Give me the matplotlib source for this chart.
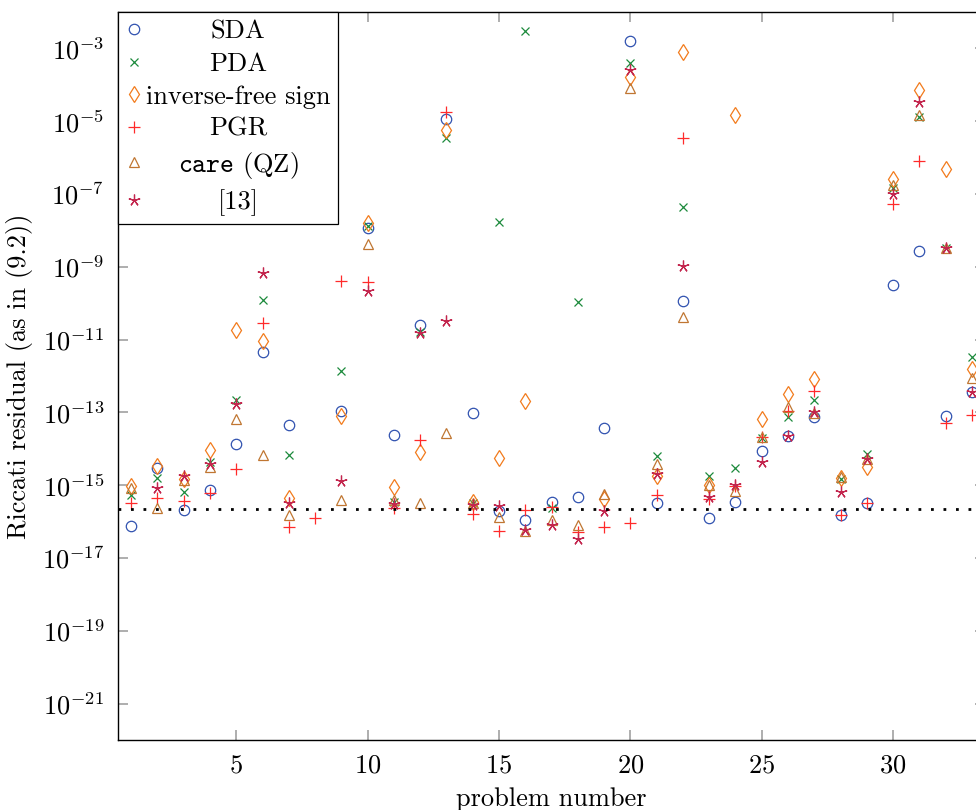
#!/usr/bin/env python3

import numpy as np
import matplotlib
matplotlib.use('Agg')

import matplotlib.pyplot as plt
from matplotlib.ticker import FixedLocator, LogFormatterMathtext, NullLocator

plt.rcParams['font.family'] = 'serif'
plt.rcParams['font.serif'] = ['cmr10']
plt.rcParams['mathtext.fontset'] = 'cm'
plt.rcParams['axes.formatter.use_mathtext'] = True
plt.rcParams['axes.unicode_minus'] = False

nan = np.nan
problems = np.arange(1, 34)

# log10 of the Riccati residual per problem (nan = no result)
sda_exp = [-16.11, -14.52, -15.68, -15.12, -13.88, -11.35, -13.35, nan, -12.96, -7.94,
           -13.63, -10.60, -4.93, -13.01, -15.70, -15.96, -15.47, -15.32, -13.43, -2.81,
           -15.50, -9.93, -15.90, -15.47, -14.07, -13.66, -13.13, -15.82, -15.50, -9.50,
           -8.56, -13.10, -12.44]
pda_exp = [-15.26, -14.79, -15.20, -14.37, -12.67, -9.91, -14.17, nan, -11.87, -7.88,
           -15.47, -10.80, -5.46, -15.50, -7.77, -2.53, -15.64, -9.97, nan, -3.40,
           -14.21, -7.37, -14.75, -14.52, -13.70, -13.13, -12.67, -14.82, -14.13, -6.83,
           -4.89, -8.47, -11.48]
ifs_exp = [-15.03, -14.47, -14.82, -14.04, -10.73, -11.05, -15.36, nan, -13.11, -7.79,
           -15.06, -14.09, -5.25, -15.45, -14.24, -12.70, nan, nan, -15.39, -3.79,
           -14.75, -3.10, -15.00, -4.82, -13.18, -12.49, -12.08, -14.80, -14.50, -6.58,
           -4.13, -6.32, -11.80]
pgr_exp = [-15.50, -15.35, -15.43, -15.21, -14.56, -10.54, -16.16, -15.89, -9.38, -9.43,
           -15.64, -13.77, -4.75, -15.78, -16.26, -15.68, -15.60, -16.28, -16.14, -16.03,
           -15.27, -5.46, -15.39, -15.02, -13.68, -12.95, -12.40, -15.82, -15.50, -7.27,
           -6.10, -13.29, -13.08]
care_exp = [-15.08, -15.64, -14.86, -14.50, -13.18, -14.17, -15.82, nan, -15.41, -8.36,
            -15.41, -15.50, -13.56, -15.48, -15.87, -16.25, -15.96, -16.10, -15.25, -4.10,
            -14.41, -10.37, -15.00, -15.16, -13.68, -12.85, -13.02, -14.77, -14.28, -6.76,
            -4.82, -8.47, -12.05]
ref13_exp = [nan, -15.07, -14.75, -14.41, -12.76, -9.17, -15.50, nan, -14.88, -9.66,
             -15.52, -10.83, -10.48, -15.55, -15.58, -16.23, -16.10, -16.49, -15.71, -3.58,
             -14.68, -8.97, -15.32, -15.00, -14.37, -13.66, -13.00, -15.18, -14.27, -6.99,
             -4.48, -8.47, -12.44]

eps = 2.22e-16
y_ticks = [10.0 ** k for k in range(-21, -2, 2)]
x_ticks = [5, 10, 15, 20, 25, 30]

series = [
    ('SDA', sda_exp, 'o', '#3152b0', 7.5),
    ('PDA', pda_exp, 'x', '#1c8a3c', 6.0),
    ('inverse-free sign', ifs_exp, 'd', '#f27b1c', 8.0),
    ('PGR', pgr_exp, '+', '#ff2a2a', 8.5),
    (r'$\mathtt{care}$ (QZ)', care_exp, '^', '#c07632', 7.0),
    ('[13]', ref13_exp, (5, 2, 0), '#c3264e', 8.5),
]


def main():
    fig = plt.figure(figsize=(9.76, 8.1), dpi=100)
    ax = fig.add_axes([118 / 976, 70 / 810, 867 / 976, 728 / 810])

    for label, exps, marker, color, ms in series:
        vals = 10.0 ** np.array(exps, dtype=float)
        ax.plot(problems, vals, linestyle='none', marker=marker, markersize=ms,
                markerfacecolor='none', markeredgecolor=color, markeredgewidth=0.9,
                color=color, label=label)

    ax.axhline(eps, color='black', linestyle=(0, (1, 3.5)), linewidth=2)

    ax.set_yscale('log')
    ax.set_xlim(0.5, 33.5)
    ax.set_ylim(1e-22, 1e-2)
    ax.yaxis.set_major_locator(FixedLocator(y_ticks))
    ax.yaxis.set_major_formatter(LogFormatterMathtext())
    ax.yaxis.set_minor_locator(NullLocator())
    ax.set_xticks(x_ticks)

    ax.tick_params(which='major', direction='in', length=7, width=1.1, color='0.6',
                   top=True, right=True, labelsize=19, pad=10)
    for sp in ax.spines.values():
        sp.set_linewidth(1.0)

    ax.set_xlabel('problem number', fontsize=19, labelpad=7)
    ax.set_ylabel('Riccati residual (as in (9.2))', fontsize=19)
    ax.yaxis.set_label_coords(-0.098, 0.5)

    leg = ax.legend(loc='upper left', bbox_to_anchor=(0, 1), borderaxespad=0,
                    fontsize=19, numpoints=1, handlelength=0.6, handletextpad=0.15,
                    borderpad=0.3, labelspacing=0.33, fancybox=False, framealpha=1,
                    edgecolor='black')
    leg.get_frame().set_linewidth(0.9)

    # centre the legend texts like pgfplots does
    renderer = fig.canvas.get_renderer()
    texts = leg.get_texts()
    widths = [t.get_window_extent(renderer).width for t in texts]
    maxw = max(widths)
    for t, w in zip(texts, widths):
        t.set_position(((maxw - w) / 2, 0))

    fig.savefig('out.png', dpi=100)


if __name__ == "__main__":
    main()
